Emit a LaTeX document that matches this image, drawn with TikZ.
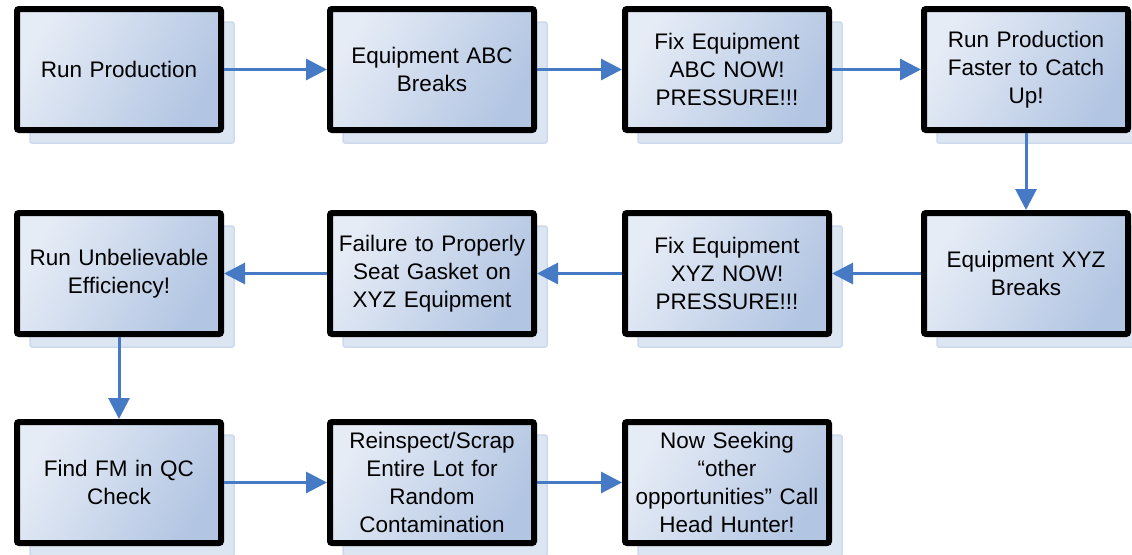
\documentclass[tikz,border=0pt]{standalone}
\usepackage{fontspec}
\setmainfont{Liberation Sans}
\usetikzlibrary{arrows.meta,shadows}
\definecolor{boxlight}{RGB}{230,236,246}
\definecolor{boxdark}{RGB}{178,197,226}
\definecolor{shadowfill}{RGB}{220,229,242}
\definecolor{shadowline}{RGB}{205,217,236}
\definecolor{arrowblue}{RGB}{70,122,196}
\begin{document}
\begin{tikzpicture}[x=1pt,y=-1pt,
  procbox/.style={draw=black, line width=6pt, rounded corners=2pt,
    minimum width=204pt, minimum height=121pt, inner sep=2pt,
    left color=boxlight, right color=boxdark, shading angle=60,
    align=center, text width=200pt,
    font=\fontsize{22.5pt}{28pt}\selectfont,
    drop shadow={shadow xshift=13pt, shadow yshift=-13pt, opacity=1,
      fill=shadowfill, draw=shadowline, line width=1.5pt}},
  flow/.style={draw=arrowblue, line width=3pt,
    -{Triangle[length=21pt,width=21pt]}}]
\fill[white] (0,0) rectangle (1132,554);
\useasboundingbox (0,0) rectangle (1132,554);
% row 1
\node[procbox] (a1) at (119,69.5) {Run Production};
\node[procbox] (a2) at (432,69.5) {Equipment ABC\\Breaks};
\node[procbox] (a3) at (727,69.5) {Fix Equipment\\ABC NOW!\\PRESSURE!!!};
\node[procbox] (a4) at (1026,69.5) {Run Production\\Faster to Catch\\Up!};
% row 2
\node[procbox] (b4) at (1026,273.5) {Equipment XYZ\\Breaks};
\node[procbox] (b3) at (727,273.5) {Fix Equipment\\XYZ NOW!\\PRESSURE!!!};
\node[procbox] (b2) at (432,273.5) {Failure to Properly\\Seat Gasket on\\XYZ Equipment};
\node[procbox] (b1) at (119,273.5) {Run Unbelievable\\Efficiency!};
% row 3
\node[procbox] (c1) at (119,482.5) {Find FM in QC\\Check};
\node[procbox] (c2) at (432,482.5) {Reinspect/Scrap\\Entire Lot for\\Random\\Contamination};
\node[procbox] (c3) at (727,482.5) {Now Seeking\\“other\\opportunities” Call\\Head Hunter!};
% connectors
\draw[flow] (a1.east) -- (a2.west);
\draw[flow] (a2.east) -- (a3.west);
\draw[flow] (a3.east) -- (a4.west);
\draw[flow] (a4.south) -- (b4.north);
\draw[flow] (b4.west) -- (b3.east);
\draw[flow] (b3.west) -- (b2.east);
\draw[flow] (b2.west) -- (b1.east);
\draw[flow] (b1.south) -- (c1.north);
\draw[flow] (c1.east) -- (c2.west);
\draw[flow] (c2.east) -- (c3.west);
\end{tikzpicture}
\end{document}
